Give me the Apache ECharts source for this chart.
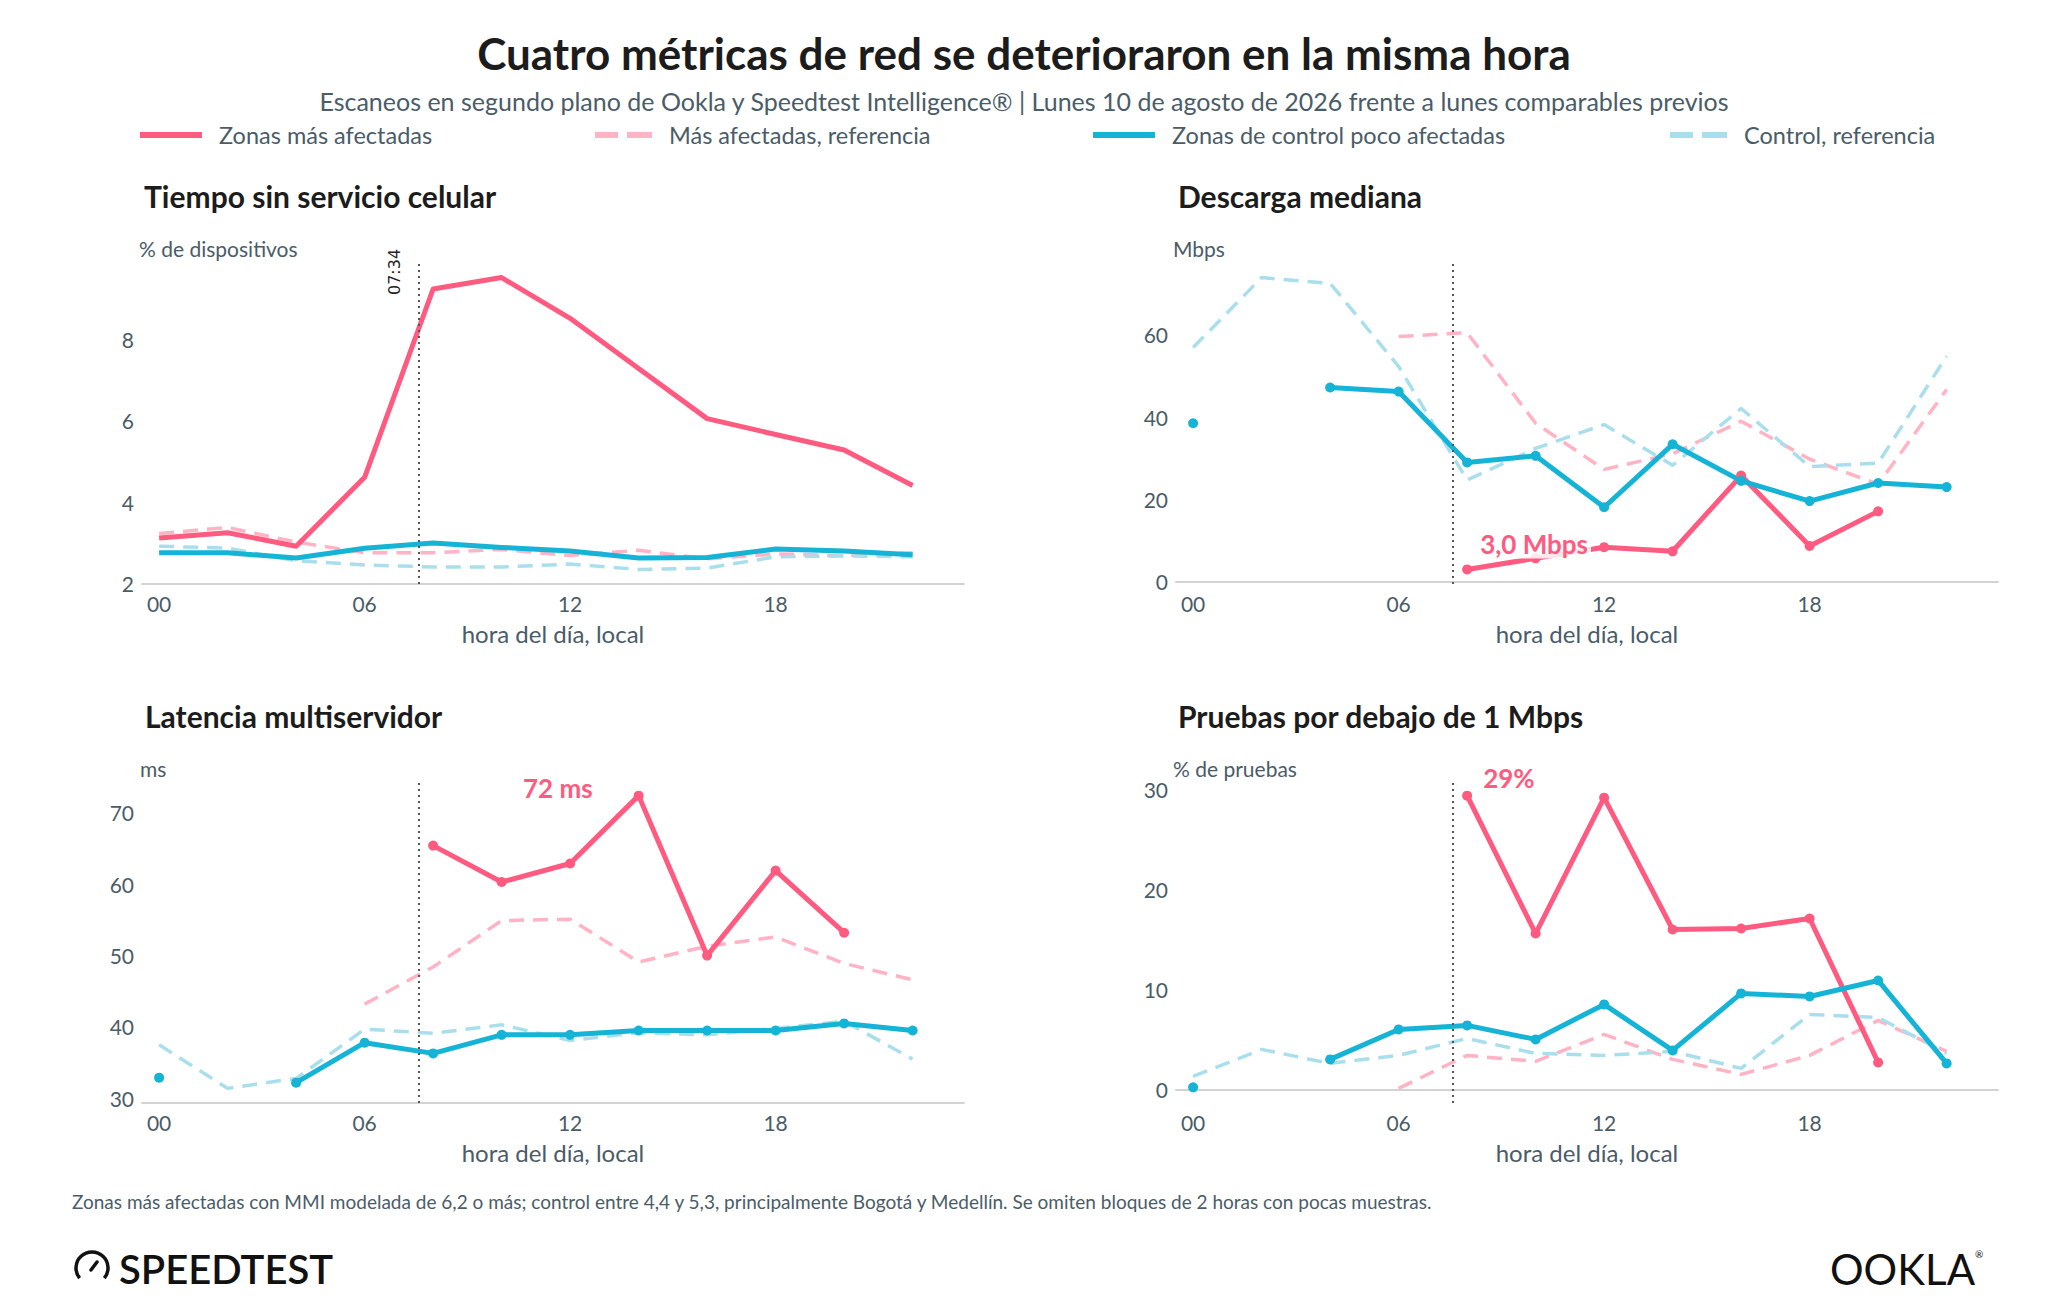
<!DOCTYPE html>
<html><head><meta charset="utf-8">
<script src="https://cdn.jsdelivr.net/npm/echarts@6/dist/echarts.min.js"></script>
<style>html,body{margin:0;padding:0;background:#fff}#c{width:2048px;height:1314px}</style>
</head><body><div id="c"></div>
<script>
// ---------- DATA ----------
const hours = [0,2,4,6,8,10,12,14,16,18,20,22];
const xTicks = [0,6,12,18];
const eventHour = 7 + 34/60; // 07:34

const seriesNames = ['Zonas más afectadas','Más afectadas, referencia','Zonas de control poco afectadas','Control, referencia'];
const panelTitles = ['Tiempo sin servicio celular','Descarga mediana','Latencia multiservidor','Pruebas por debajo de 1 Mbps'];
const unitLabels = ['% de dispositivos','Mbps','ms','% de pruebas'];

// Panel 1: Tiempo sin servicio celular (% de dispositivos)
const outageAffected    = [3.12,3.25,2.92,4.61,9.23,9.51,8.51,7.28,6.05,5.66,5.28,4.41];
const outageAffectedRef = [3.23,3.38,3.02,2.76,2.76,2.84,2.69,2.82,2.61,2.73,2.69,2.76];
const outageControl     = [2.76,2.76,2.63,2.87,3.00,2.89,2.80,2.63,2.64,2.85,2.80,2.71];
const outageControlRef  = [2.92,2.87,2.56,2.46,2.41,2.41,2.48,2.35,2.38,2.66,2.68,2.66];
const outageTicks = [2,4,6,8];

// Panel 2: Descarga mediana (Mbps)
const dlAffected    = [null,null,null,null,3.0,5.7,8.4,7.4,25.8,8.7,17.1,null];
const dlAffectedRef = [null,null,null,59.6,60.5,38.5,27.3,31.1,39.0,29.8,23.7,46.7];
const dlControl     = [38.5,null,47.2,46.2,29.0,30.6,18.1,33.4,24.5,19.6,24.0,23.0];
const dlControlRef  = [56.9,73.9,72.5,52.3,24.7,32.4,38.2,28.3,42.1,28.0,28.8,54.8];
const dlTicks = [0,20,40,60];

// Panel 3: Latencia multiservidor (ms)
const latAffected    = [null,null,null,null,65.4,60.3,62.9,72.4,50.0,61.9,53.2,null];
const latAffectedRef = [null,null,null,43.2,48.4,54.9,55.1,49.1,51.3,52.6,48.9,46.6];
const latControl     = [32.9,null,32.2,37.8,36.3,38.9,38.9,39.5,39.5,39.5,40.5,39.5];
const latControlRef  = [37.5,31.4,32.8,39.7,39.1,40.3,38.1,39.2,38.9,39.8,40.8,35.5];
const latTicks = [30,40,50,60,70];

// Panel 4: Pruebas por debajo de 1 Mbps (% de pruebas)
const slowAffected    = [null,null,null,null,29.4,15.6,29.2,16.0,16.1,17.1,2.7,null];
const slowAffectedRef = [null,null,null,0.1,3.4,2.8,5.5,3.0,1.5,3.4,6.9,3.8];
const slowControl     = [0.2,null,3.0,6.0,6.4,5.0,8.5,3.9,9.6,9.3,10.9,2.6];
const slowControlRef  = [1.3,4.0,2.6,3.4,5.1,3.6,3.4,3.8,2.1,7.5,7.2,3.6];
const slowTicks = [0,10,20,30];

// Annotations: [panel, series index, hour index, text]
const annotations = [
  [1, 0, 4, '3,0 Mbps'],
  [2, 0, 7, '72 ms'],
  [3, 0, 4, '29%']
];

// ---------- STYLE ----------
const FONT = 'Lato';
const SLATE = '#4a5c68';
const COLORS = ['#FF5A80','#FFB3C5','#15B3D6','#A9DFEC'];
const panels = [
  {data:[outageAffected,outageAffectedRef,outageControl,outageControlRef], ticks:outageTicks, markers:false},
  {data:[dlAffected,dlAffectedRef,dlControl,dlControlRef], ticks:dlTicks, markers:true},
  {data:[latAffected,latAffectedRef,latControl,latControlRef], ticks:latTicks, markers:true},
  {data:[slowAffected,slowAffectedRef,slowControl,slowControlRef], ticks:slowTicks, markers:true}
];
const gridPos = [
  {left:142, top:263, width:822, height:321},
  {left:1176, top:263, width:822, height:321},
  {left:142, top:781, width:822, height:322},
  {left:1176, top:781, width:822, height:322}
];
const annOffsets = {
  '1-4': {position:'right', offset:[0,-25], bg:true},
  '2-7': {position:'left', offset:[-33,-8], bg:false},
  '3-4': {position:'right', offset:[3,-18], bg:false}
};

function range(arrs){
  const v = arrs.flat().filter(x => x != null);
  const mn = Math.min(...v), mx = Math.max(...v), r = mx - mn;
  return [mn - 0.05*r, mx + 0.05*r];
}

const grids = [], xAxes = [], yAxes = [], series = [];
panels.forEach((p, gi) => {
  grids.push(Object.assign({containLabel:false}, gridPos[gi]));
  const [ymin, ymax] = range(p.data);
  xAxes.push({
    type:'value', gridIndex:gi, min:-0.5, max:23.5,
    axisLine:{show:true, lineStyle:{color:'#d3d3d3', width:2}},
    axisTick:{show:false}, splitLine:{show:false},
    axisLabel:{customValues:xTicks, formatter:v => String(v).padStart(2,'0'), color:SLATE, fontSize:21, fontFamily:FONT, margin:9},
    name:'hora del día, local', nameLocation:'middle', nameGap:37,
    nameTextStyle:{color:SLATE, fontSize:24, fontFamily:FONT}
  });
  yAxes.push({
    type:'value', gridIndex:gi, min:ymin, max:ymax,
    axisLine:{show:false}, axisTick:{show:false}, splitLine:{show:false},
    axisLabel:{customValues:p.ticks, color:SLATE, fontSize:21, fontFamily:FONT, margin:8}
  });
  // draw order: dashed refs first, then solids
  [1,3,0,2].forEach(si => {
    const solid = (si === 0 || si === 2);
    const vals = p.data[si];
    const data = hours.map((h, i) => {
      const item = {value:[h, vals[i] == null ? '-' : vals[i]]};
      const key = gi + '-' + i;
      const ann = annotations.find(a => a[0] === gi && a[1] === si && a[2] === i);
      if (ann) {
        const o = annOffsets[key];
        item.label = {
          show:true, formatter:ann[3], position:o.position, offset:o.offset,
          color:COLORS[0], fontSize:26, fontWeight:'bold', fontFamily:FONT,
          backgroundColor:o.bg ? 'rgba(255,255,255,0.85)' : 'transparent', padding:[1,3]
        };
      }
      return item;
    });
    const s = {
      type:'line', name:seriesNames[si], xAxisIndex:gi, yAxisIndex:gi, data,
      connectNulls:false, animation:false, silent:true,
      color:COLORS[si],
      lineStyle:{color:COLORS[si], width: solid ? 5 : 3.5, type: solid ? 'solid' : [15,9], cap:'butt', join:'round'},
      symbol: (solid && p.markers) ? 'circle' : 'none',
      symbolSize: 10, showSymbol: solid && p.markers,
      itemStyle:{color:COLORS[si], borderWidth:0},
      z: solid ? 3 : 2
    };
    if (si === 2) {
      // event marker line (07:34)
      s.markLine = {
        silent:true, symbol:['none','none'], animation:false,
        lineStyle:{color:'#555', type:[2,4], width:2},
        label:{show:false},
        data:[{xAxis:eventHour}]
      };
    }
    series.push(s);
  });
});

const solidIcon = 'path://M0,0H62V6H0Z';
const dashIcon = 'path://M0,0H23V6H0Z M32,0H57V6H32Z';
const legendLefts = [140, 595, 1093, 1670];
const legends = seriesNames.map((n, i) => ({
  data:[n], left:legendLefts[i], top:123, padding:0,
  icon: (i % 2 === 0) ? solidIcon : dashIcon,
  itemWidth: (i % 2 === 0) ? 62 : 57, itemHeight:6, itemGap:0, itemTextGap:24,
  itemStyle:{borderWidth:0},
  textStyle:{color:SLATE, fontSize:23.5, fontFamily:FONT, padding:[0,0,0,12]},
  selectedMode:false
}));

const titlePos = [[144,196],[1178,196],[145,716],[1178,716]];
const unitPos = [[139,248],[1173,248],[140,768],[1173,768]];
const graphics = [
  {type:'text', x:1024, y:53, style:{text:'Cuatro métricas de red se deterioraron en la misma hora', fill:'#1c1c1c', font:'bold 44px Lato', textAlign:'center', textVerticalAlign:'middle'}},
  {type:'text', x:1024, y:101, style:{text:'Escaneos en segundo plano de Ookla y Speedtest Intelligence® | Lunes 10 de agosto de 2026 frente a lunes comparables previos', fill:SLATE, font:'25px Lato', textAlign:'center', textVerticalAlign:'middle'}},
  {type:'text', x:72, y:1201, style:{text:'Zonas más afectadas con MMI modelada de 6,2 o más; control entre 4,4 y 5,3, principalmente Bogotá y Medellín. Se omiten bloques de 2 horas con pocas muestras.', fill:SLATE, font:'19px Lato', textAlign:'left', textVerticalAlign:'middle'}},
  // Speedtest logo
  {type:'arc', shape:{cx:92, cy:1268, r:16, startAngle:Math.PI*0.78, endAngle:Math.PI*2.22, clockwise:true}, style:{stroke:'#111', lineWidth:3.5, fill:null}},
  {type:'line', shape:{x1:91, y1:1270, x2:97, y2:1262}, style:{stroke:'#111', lineWidth:3.5, lineCap:'round'}},
  {type:'text', x:119, y:1269, style:{text:'SPEEDTEST', fill:'#111', font:'600 40px Lato', textAlign:'left', textVerticalAlign:'middle'}},
  // Ookla logo
  {type:'text', x:1830, y:1269, style:{text:'OOKLA', fill:'#111', font:'400 42px Lato', textAlign:'left', textVerticalAlign:'middle'}},
  {type:'text', x:1975, y:1254, style:{text:'®', fill:'#111', font:'10px Lato', textAlign:'left', textVerticalAlign:'middle'}}
];
panelTitles.forEach((t, i) => graphics.push({type:'text', x:titlePos[i][0], y:titlePos[i][1], style:{text:t, fill:'#1c1c1c', font:'bold 30px Lato', textAlign:'left', textVerticalAlign:'middle'}}));
unitLabels.forEach((t, i) => graphics.push({type:'text', x:unitPos[i][0], y:unitPos[i][1], style:{text:t, fill:SLATE, font:'21px Lato', textAlign:'left', textVerticalAlign:'middle'}}));

const chart = echarts.init(document.getElementById('c'), null, {renderer:'svg', width:2048, height:1314});
chart.setOption({
  backgroundColor:'#fff', animation:false,
  textStyle:{fontFamily:FONT},
  grid:grids, xAxis:xAxes, yAxis:yAxes, series, legend:legends, graphic:graphics
});
// "07:34" label next to the event line in the first panel
const top1 = chart.convertToPixel({gridIndex:0}, [eventHour, yAxes[0].max]);
graphics.push({type:'text', x:top1[0]-24, y:top1[1]+9, rotation:Math.PI/2,
  style:{text:'07:34', fill:'#222', font:'16px "DejaVu Sans"', textAlign:'center', textVerticalAlign:'middle'}});
chart.setOption({graphic:graphics});
</script></body></html>
